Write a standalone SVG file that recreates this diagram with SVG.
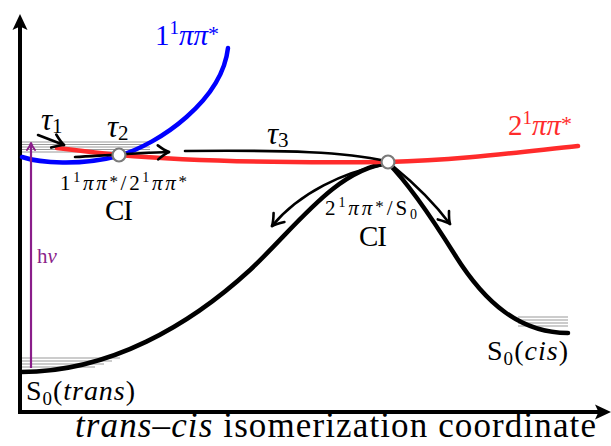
<svg xmlns="http://www.w3.org/2000/svg" width="611" height="446" viewBox="0 0 611 446">
<style>
text{font-family:'Liberation Serif','DejaVu Serif',serif}
.i{font-style:italic}
.lvl{stroke:#9a9a9a;stroke-width:1.2;fill:none}
.pes{fill:none;stroke-width:4.5;stroke-linecap:round}
.arr{fill:none;stroke:#000;stroke-width:2.6;stroke-linecap:round}
.ci{fill:#fff;stroke:#7a7a7a;stroke-width:2.2}
</style>
<defs>
<marker id="ah" markerUnits="userSpaceOnUse" markerWidth="30" markerHeight="30" viewBox="-15 -15 30 30" refX="0" refY="0" orient="auto" overflow="visible">
<path d="M-11,-7 Q-4,-1.5 0,0 Q-4,1.5 -11,7" fill="none" stroke="#000" stroke-width="2.6" stroke-linecap="round" stroke-linejoin="round"/>
</marker>
<marker id="ahp" markerUnits="userSpaceOnUse" markerWidth="20" markerHeight="20" viewBox="-10 -10 20 20" refX="0" refY="0" orient="auto" overflow="visible">
<path d="M-7,-4 Q-3,-1 0,0 Q-3,1 -7,4" fill="none" stroke="#8a1e8a" stroke-width="2" stroke-linecap="round" stroke-linejoin="round"/>
</marker>
</defs>
<rect width="611" height="446" fill="#fff"/>

<g id="axes">
<line x1="20" y1="26" x2="20" y2="414" stroke="#000" stroke-width="4"/>
<line x1="18" y1="412" x2="600" y2="412" stroke="#000" stroke-width="4"/>
<path d="M20,14 L27.5,30 L20,26.5 L12.5,30 Z" fill="#000"/>
<path d="M611,412 L595,404.5 L598.5,412 L595,419.5 Z" fill="#000"/>
</g>

<g id="levels">
<line class="lvl" x1="22" y1="142" x2="150" y2="142"/>
<line class="lvl" x1="22" y1="144.5" x2="150" y2="144.5"/>
<line class="lvl" x1="22" y1="147" x2="150" y2="147"/>
<line class="lvl" x1="22" y1="149.5" x2="150" y2="149.5"/>
<line class="lvl" x1="22" y1="152" x2="150" y2="152"/>
<line class="lvl" x1="22" y1="358" x2="120" y2="358"/>
<line class="lvl" x1="22" y1="361" x2="112" y2="361"/>
<line class="lvl" x1="22" y1="364" x2="104" y2="364"/>
<line class="lvl" x1="22" y1="367" x2="95" y2="367"/>
<line class="lvl" x1="518" y1="317" x2="568" y2="317"/>
<line class="lvl" x1="518" y1="320" x2="568" y2="320"/>
<line class="lvl" x1="518" y1="323" x2="568" y2="323"/>
<line class="lvl" x1="518" y1="326" x2="568" y2="326"/>
</g>

<g id="S0">
<path class="pes" stroke="#000" d="M21,372 C110,372 190,325 250,270 C295,228 335,170 388,163 C405,180 430,215 455,255 C485,303 520,333 568,333"/>
</g>

<g id="state-1pp">
<path class="pes" stroke="#0000ff" d="M22,157 C40,163 80,166 118,156 C160,144 222,100 228,48"/>
</g>

<g id="state-2pp">
<path class="pes" stroke="#ff2b2b" d="M57,148 C80,151 100,153 119,155 C200,162 300,163 388,162 C460,160 520,152 578,146"/>
</g>

<g id="connectors">
<line x1="31" y1="368" x2="31" y2="143" stroke="#8a1e8a" stroke-width="2.2" marker-end="url(#ahp)"/>
<path class="arr" d="M38,135 L64,145" marker-end="url(#ah)"/>
<path class="arr" d="M75,157 C110,155 140,153 169,152" marker-end="url(#ah)"/>
<path class="arr" d="M185,151 C290,150 345,152 386,161"/>
<path class="arr" d="M382,165 C345,172 300,192 272,226" marker-end="url(#ah)"/>
<path class="arr" d="M394,167 C410,180 432,200 450,224" marker-end="url(#ah)"/>
</g>

<g id="ci1">
<circle class="ci" cx="119" cy="155" r="6.5"/>
<text font-family="Liberation Serif, DejaVu Serif, serif" x="60" y="190" font-size="21" textLength="127">1<tspan font-size="14" dy="-8">1</tspan><tspan class="i" dy="8">ππ</tspan><tspan font-size="17" dy="-3">*</tspan><tspan dy="3">/2</tspan><tspan font-size="14" dy="-8">1</tspan><tspan class="i" dy="8">ππ</tspan><tspan font-size="17" dy="-3">*</tspan></text>
<text font-family="Liberation Serif, DejaVu Serif, serif" x="105" y="220" font-size="29" textLength="28">CI</text>
</g>

<g id="ci2">
<circle class="ci" cx="388" cy="162" r="6.5"/>
<text font-family="Liberation Serif, DejaVu Serif, serif" x="325" y="215" font-size="21" textLength="92">2<tspan font-size="14" dy="-8">1</tspan><tspan class="i" dy="8">ππ</tspan><tspan font-size="17" dy="-3">*</tspan><tspan dy="3">/S</tspan><tspan font-size="14" dy="4">0</tspan></text>
<text font-family="Liberation Serif, DejaVu Serif, serif" x="359" y="246" font-size="29" textLength="28">CI</text>
</g>

<g id="labels">
<text font-family="Liberation Serif, DejaVu Serif, serif" x="155" y="45" font-size="29" fill="#0000ff">1<tspan font-size="19" dy="-11">1</tspan><tspan class="i" dy="11">ππ</tspan><tspan font-size="22" dy="-4">*</tspan></text>
<text font-family="Liberation Serif, DejaVu Serif, serif" x="508" y="135" font-size="29" fill="#ff2b2b">2<tspan font-size="19" dy="-11">1</tspan><tspan class="i" dy="11">ππ</tspan><tspan font-size="22" dy="-4">*</tspan></text>
<text font-family="Liberation Serif, DejaVu Serif, serif" x="41" y="130" font-size="31"><tspan class="i">τ</tspan><tspan font-size="21" dy="3">1</tspan></text>
<text font-family="Liberation Serif, DejaVu Serif, serif" x="107" y="137" font-size="31"><tspan class="i">τ</tspan><tspan font-size="21" dy="3">2</tspan></text>
<text font-family="Liberation Serif, DejaVu Serif, serif" x="267" y="144" font-size="31"><tspan class="i">τ</tspan><tspan font-size="21" dy="3">3</tspan></text>
<text font-family="Liberation Serif, DejaVu Serif, serif" x="37" y="263" font-size="21" fill="#8a1e8a">h<tspan class="i">ν</tspan></text>
<text font-family="Liberation Serif, DejaVu Serif, serif" x="26" y="400" font-size="28" textLength="109">S<tspan font-size="19" dy="5">0</tspan><tspan dy="-5">(</tspan><tspan class="i">trans</tspan>)</text>
<text font-family="Liberation Serif, DejaVu Serif, serif" x="487" y="360" font-size="28" textLength="81">S<tspan font-size="19" dy="5">0</tspan><tspan dy="-5">(</tspan><tspan class="i">cis</tspan>)</text>
<text font-family="Liberation Serif, DejaVu Serif, serif" x="75" y="437" font-size="35" textLength="521"><tspan class="i">trans</tspan>–<tspan class="i">cis</tspan> isomerization coordinate</text>
</g>
</svg>
